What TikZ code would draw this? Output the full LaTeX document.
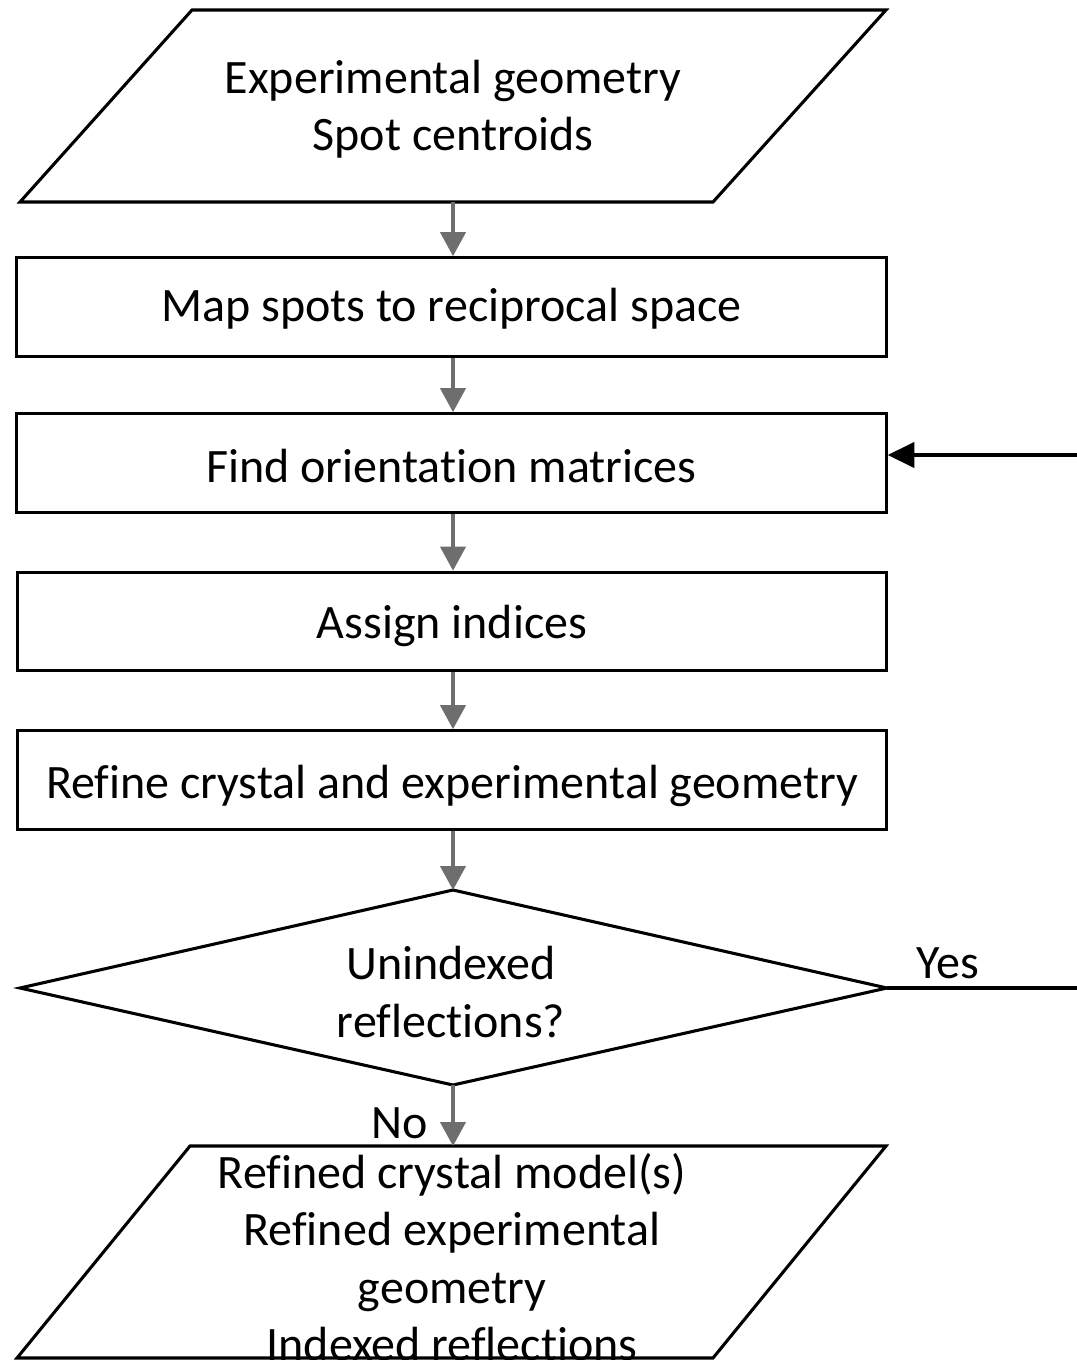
\documentclass[tikz,border=0pt]{standalone}
\usepackage{fontspec}
\setmainfont{Carlito}[Ligatures=CommonOff]
\usetikzlibrary{arrows.meta}
\begin{document}
\begin{tikzpicture}[x=0.75pt,y=-0.75pt,
  shape line/.style={draw=black,line width=2.3pt,line join=miter},
  procbox/.style={draw=black,line width=2.3pt,minimum width=652pt,minimum height=74pt,inner sep=0pt},
  lbl/.style={font=\fontsize{36}{43}\selectfont,align=center,inner sep=0pt},
  flow/.style={draw={rgb,255:red,110;green,110;blue,110},line width=2.3pt,-{Triangle[width=19pt,length=18pt]}},
  back/.style={draw=black,line width=2.3pt,-{Triangle[width=19pt,length=20pt]}},
  plain/.style={draw=black,line width=2.3pt}]
\useasboundingbox (0,0) rectangle (1076,1360);
\fill[white] (0,0) rectangle (1076,1360);
% input parallelogram
\draw[shape line] (192,10) -- (886,10) -- (713,202) -- (20,202) -- cycle;
\node[lbl] (input) at (453,109) {Experimental geometry\\Spot centroids};
\coordinate (inputS) at (453,202);
% boxes
\node[procbox] (map) at (451.5,307) {};
\node[lbl] at (451.5,309) {Map spots to reciprocal space};
\node[procbox] (find) at (451.5,463) {};
\node[lbl] at (451.5,466) {Find orientation matrices};
\node[procbox] (assign) at (452,621.5) {};
\node[lbl] at (452,626) {Assign indices};
\node[procbox] (refine) at (452,780) {};
\node[lbl] at (452,786) {Refine crystal and experimental geometry};
% decision diamond
\draw[shape line] (453,890) -- (887,988) -- (453,1085) -- (20,988) -- cycle;
\coordinate (decN) at (453,890);
\coordinate (decS) at (453,1085);
\coordinate (decE) at (887,988);
\node[lbl] (dec) at (451,992) {Unindexed\\reflections?};
% output parallelogram
\draw[shape line] (190,1146) -- (886,1146) -- (713,1358) -- (17,1358) -- cycle;
\coordinate (outN) at (453,1146);
\node[lbl] (output) at (452,1257) {Refined crystal model(s)\\Refined experimental\\geometry\\Indexed reflections};
% connectors
\draw[flow] (inputS) -- (map.north -| inputS);
\draw[flow] (map.south -| inputS) -- (find.north -| inputS);
\draw[flow] (find.south -| inputS) -- (assign.north -| inputS);
\draw[flow] (assign.south -| inputS) -- (refine.north -| inputS);
\draw[flow] (refine.south -| inputS) -- (decN);
\draw[flow] (decS) -- (outN);
\coordinate (yesEnd) at (1078,988);
\coordinate (backStart) at (1078,455);
\draw[plain] (decE) -- (yesEnd);
\draw[back] (backStart) -- (find.east |- backStart);
\node[lbl] (yes) at (948,963) {Yes};
\node[lbl] (no) at (400,1123) {No};
\end{tikzpicture}
\end{document}
